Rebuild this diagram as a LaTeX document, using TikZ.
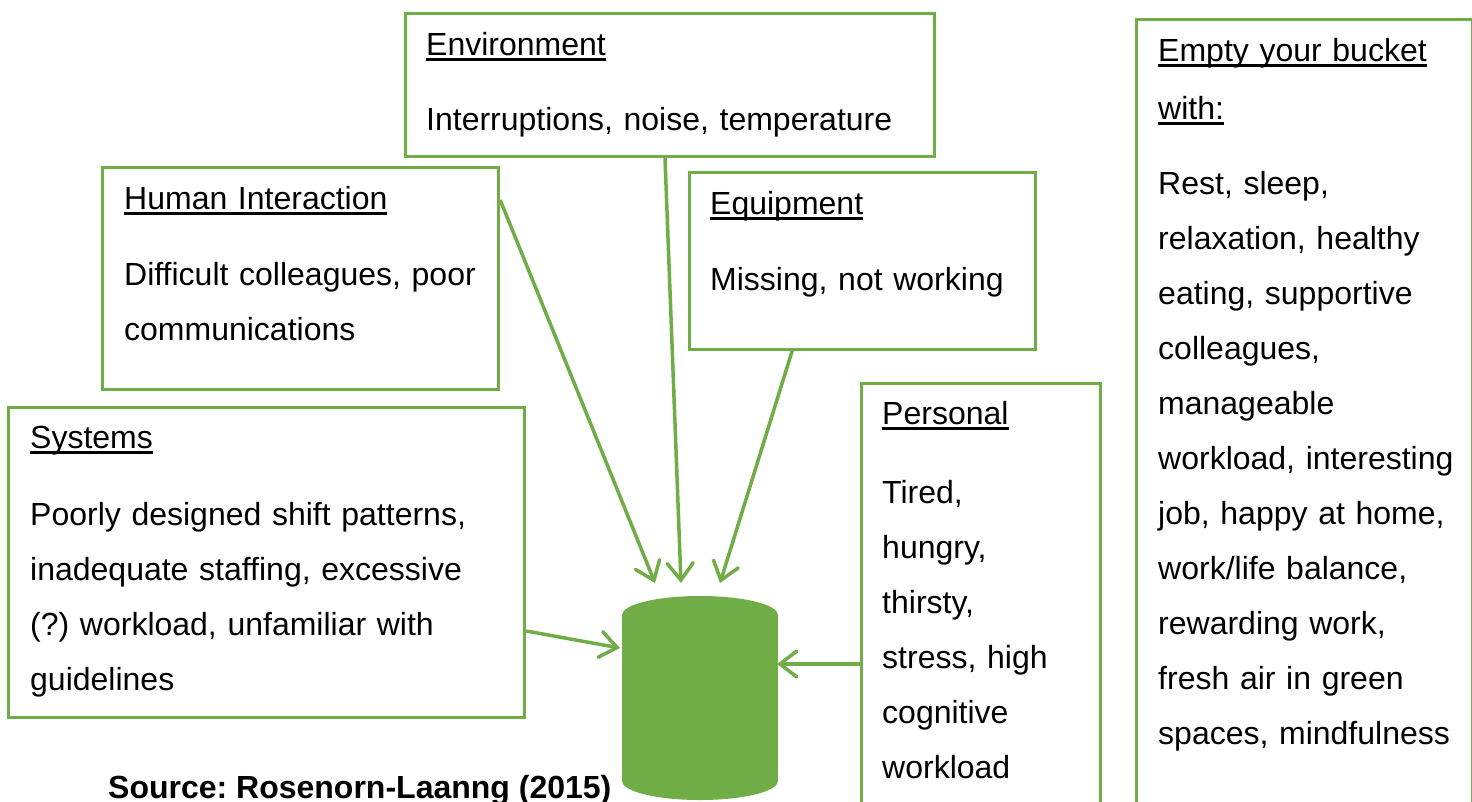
\documentclass[tikz,border=0pt]{standalone}
\usepackage{fontspec}
\setmainfont{Liberation Sans}
\usetikzlibrary{arrows.meta,calc}
\definecolor{grn}{HTML}{70AD47}
\newcommand\ulin[1]{\leavevmode\setbox0\hbox{#1}\hbox{\rlap{\rule[-5.5pt]{\wd0}{2.8pt}}\box0}}
\frenchspacing
\begin{document}
\begin{tikzpicture}[x=1pt,y=-1pt,
  box/.style={draw=grn,line width=3.2pt,anchor=north west,inner sep=0pt},
  ttl/.style={anchor=base west,inner sep=0pt,align=left,font=\frenchspacing\fontsize{32pt}{58pt}\selectfont},
  txt/.style={anchor=base west,inner sep=0pt,align=left,font=\frenchspacing\fontsize{32pt}{55pt}\selectfont},
  arr/.style={draw=grn,line width=3.5pt,-{Straight Barb[length=17pt,width=26pt,line cap=round]}}]
\useasboundingbox (0,0) rectangle (1472,801);
\clip (0,0) rectangle (1472,801);
\fill[white] (0,0) rectangle (1472,801);
% boxes
\node[box,minimum width=529pt,minimum height=143pt] (env) at (404,12) {};
\node[box,minimum width=396pt,minimum height=222pt] (hi) at (101,166) {};
\node[box,minimum width=346pt,minimum height=177pt] (eq) at (688,171) {};
\node[box,minimum width=516pt,minimum height=310pt] (sys) at (7,406) {};
\node[box,minimum width=239pt,minimum height=460pt] (per) at (860,382) {};
\node[box,minimum width=336pt,minimum height=820pt] (emp) at (1135,18) {};
% texts
\node[ttl,text width=480pt] (envT) at (426,55) {\ulin{Environment}};
\node[txt,text width=500pt] (envB) at (426,130) {Interruptions, noise, temperature};
\node[ttl,text width=360pt] (hiT) at (124,209) {\ulin{Human Interaction}};
\node[txt,text width=370pt] (hiB) at (124,285) {Difficult colleagues, poor\\communications};
\node[ttl,text width=310pt] (eqT) at (710,214) {\ulin{Equipment}};
\node[txt,text width=320pt] (eqB) at (710,290) {Missing, not working};
\node[ttl,text width=470pt] (sysT) at (30,448) {\ulin{Systems}};
\node[txt,text width=490pt] (sysB) at (30,525) {Poorly designed shift patterns,\\inadequate staffing, excessive\\(?) workload, unfamiliar with\\guidelines};
\node[ttl,text width=200pt] (perT) at (882,424) {\ulin{Personal}};
\node[txt,text width=215pt] (perB) at (882,503) {Tired,\\hungry,\\thirsty,\\stress, high\\cognitive\\workload};
\node[ttl,text width=300pt] (empT) at (1158,61) {\ulin{Empty your bucket}\\\ulin{with:}};
\node[txt,text width=310pt] (empB) at (1158,194) {Rest, sleep,\\relaxation, healthy\\eating, supportive\\colleagues,\\manageable\\workload, interesting\\job, happy at home,\\work/life balance,\\rewarding work,\\fresh air in green\\spaces, mindfulness};
% bucket
\node[minimum width=156pt,minimum height=204pt,inner sep=0pt,anchor=north west] (bucket) at (622,596) {};
\fill[grn] (622,615) rectangle (778,781);
\fill[grn] (700,615) ellipse [x radius=78, y radius=19];
\fill[grn] (700,781) ellipse [x radius=78, y radius=19];
% arrow tips
\coordinate (t1) at ($(bucket.north west)+(33,-13)$);
\coordinate (t2) at ($(bucket.north west)+(59,-13)$);
\coordinate (t3) at ($(bucket.north west)+(98,-13)$);
\coordinate (t4) at ($(bucket.north west)+(-2,52)$);
\coordinate (t5) at ($(bucket.north west)+(155,68)$);
\draw[arr] ($(hi.north east)+(0,34)$) -- (t1);
\draw[arr] ($(env.south west)+(261,0)$) -- (t2);
\draw[arr] ($(eq.south west)+(105,-3)$) -- (t3);
\draw[arr] ($(sys.north east)+(0,225)$) -- (t4);
\draw[arr] ($(per.north west)+(0,282)$) -- (t5);
% source
\node[anchor=base west,inner sep=0pt,font=\frenchspacing\fontsize{32pt}{38pt}\selectfont\bfseries] (src) at (108,798) {Source: Rosenorn-Laanng (2015)};
\end{tikzpicture}
\end{document}
